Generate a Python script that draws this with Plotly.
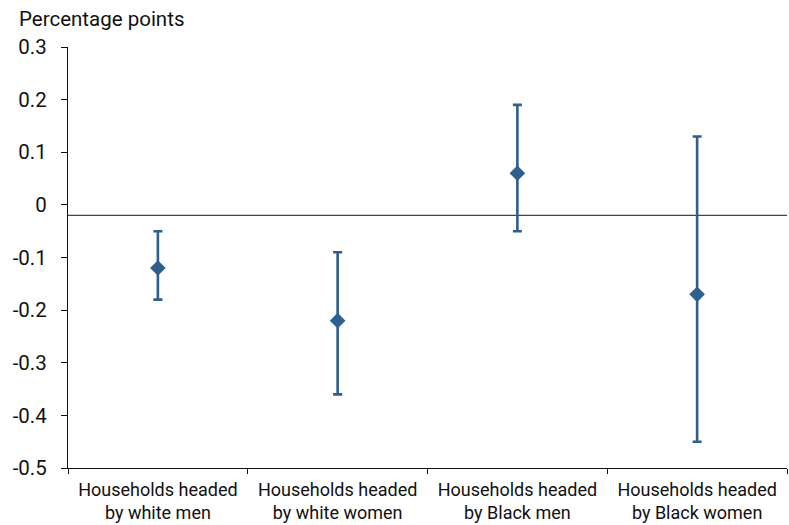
import plotly.graph_objects as go

categories = [
    "Households headed<br>by white men",
    "Households headed<br>by white women",
    "Households headed<br>by Black men",
    "Households headed<br>by Black women",
]
estimates = [-0.12, -0.22, 0.06, -0.17]
upper = [-0.05, -0.09, 0.19, 0.13]
lower = [-0.18, -0.36, -0.05, -0.45]
y_ticks = [0.3, 0.2, 0.1, 0, -0.1, -0.2, -0.3, -0.4, -0.5]
y_tick_text = ["0.3", "0.2", "0.1", "0", "-0.1", "-0.2", "-0.3", "-0.4", "-0.5"]
ref_level = -0.02

color = "#2d5f8f"
err_plus = [u - e for u, e in zip(upper, estimates)]
err_minus = [e - l for e, l in zip(estimates, lower)]

fig = go.Figure()
fig.add_trace(go.Scatter(
    x=categories, y=estimates, mode="markers",
    marker=dict(symbol="diamond", size=12, color=color),
    error_y=dict(type="data", symmetric=False, array=err_plus, arrayminus=err_minus,
                 color=color, thickness=2.6, width=4.5),
    showlegend=False,
))

fig.add_shape(type="line", xref="paper", x0=0, x1=1, yref="y", y0=ref_level, y1=ref_level,
              line=dict(color="#444444", width=1.2), layer="below")

fig.add_annotation(text="Percentage points", xref="paper", yref="paper",
                   x=-51 / 719, y=1 + 28 / 421, xanchor="left", yanchor="middle",
                   showarrow=False, font=dict(size=20.5, color="#111111"))

fig.update_layout(
    width=789, height=525,
    margin=dict(l=68, r=2, t=47, b=57),
    paper_bgcolor="white", plot_bgcolor="white",
    font=dict(family="Roboto, Arial, sans-serif", color="#111111"),
)
fig.update_xaxes(
    type="category", range=[-0.5, 3.5], tickson="boundaries", ticks="outside",
    ticklen=5, tickcolor="#111111", showline=True, linecolor="#111111", linewidth=1.2,
    showgrid=False, tickfont=dict(size=18), zeroline=False, ticklabelstandoff=5,
)
fig.update_yaxes(
    range=[-0.5, 0.3], tickvals=y_ticks, ticktext=y_tick_text,
    ticks="outside", ticklen=6, tickcolor="#111111", showline=True,
    linecolor="#111111", linewidth=1.2, showgrid=False, zeroline=False,
    tickfont=dict(size=20.5), ticklabelstandoff=10,
)

fig.write_html("out.html")
